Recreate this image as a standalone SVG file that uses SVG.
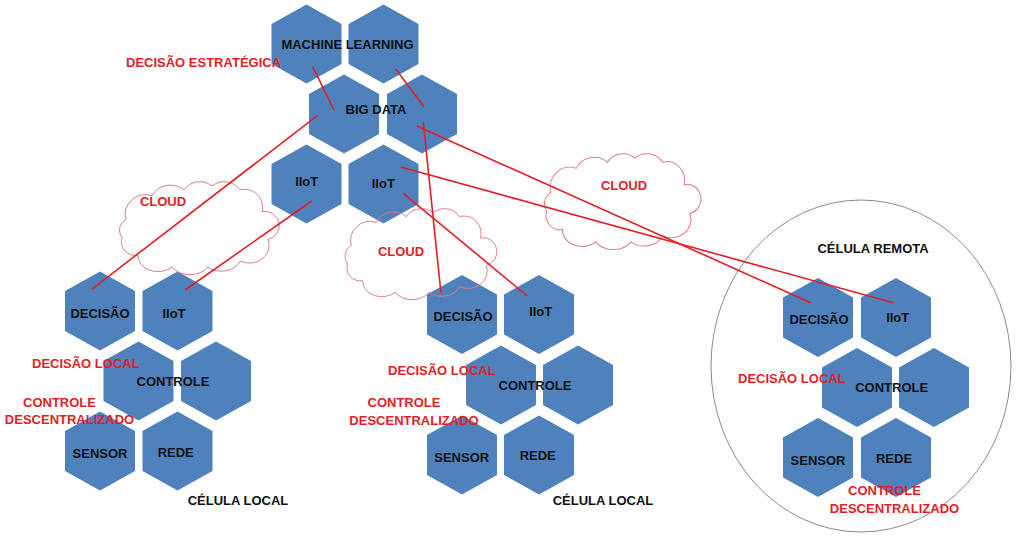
<svg xmlns="http://www.w3.org/2000/svg" xmlns:xlink="http://www.w3.org/1999/xlink" width="1023" height="544" viewBox="0 0 1023 544">
<style>
.hex{fill:#4f81bd}
.lbl{font-family:"Liberation Sans",Arial,sans-serif;font-weight:bold;font-size:13px;fill:#111;text-anchor:middle}
.red{font-family:"Liberation Sans",Arial,sans-serif;font-weight:bold;font-size:13px;fill:#e31e24;text-anchor:middle}
.red12{text-anchor:start}
.start{text-anchor:start}
.cloud{fill:none;stroke:#e27a86;stroke-width:1}
.conn line{stroke:#e31e24;stroke-width:1.6;fill:none}
</style>
<defs>
<path id="hx" d="M0,-39.5 L35,-20 L35,20 L0,39.5 L-35,20 L-35,-20 Z"/>
<path id="cl" d="M14,42 A20,20 0 0 1 40,18 A20,18 0 0 1 72,12 A18,16 0 0 1 100,8 A18,16 0 0 1 128,12 A18,18 0 0 1 150,34 A14,14 0 0 1 156,62 A20,18 0 0 1 128,84 A20,16 0 0 1 96,90 A22,18 0 0 1 60,90 A20,16 0 0 1 26,78 A14,14 0 0 1 10,60 A12,12 0 0 1 14,42 Z"/>
</defs>
<rect width="1023" height="544" fill="#fff"/>
<ellipse id="celula-remota-border" cx="861" cy="366" rx="150" ry="166" fill="none" stroke="#8a8a8a" stroke-width="1"/>

<!-- top cluster -->
<g id="machine-learning">
<use href="#hx" class="hex" x="306.5" y="44"/>
<use href="#hx" class="hex" x="383.5" y="44"/>
</g>
<g id="big-data">
<use href="#hx" class="hex" x="344" y="114"/>
<use href="#hx" class="hex" x="422" y="114"/>
</g>
<g id="iiot-top-left"><use href="#hx" class="hex" x="306.5" y="184"/></g>
<g id="iiot-top-right"><use href="#hx" class="hex" x="383.5" y="184"/></g>

<!-- left cell -->
<g id="l-decisao"><use href="#hx" class="hex" x="100" y="311"/></g>
<g id="l-iiot"><use href="#hx" class="hex" x="177.5" y="311"/></g>
<g id="l-controle"><use href="#hx" class="hex" x="138.5" y="381"/><use href="#hx" class="hex" x="216" y="381"/></g>
<g id="l-sensor"><use href="#hx" class="hex" x="100" y="451"/></g>
<g id="l-rede"><use href="#hx" class="hex" x="177.5" y="451"/></g>

<!-- middle cell -->
<g id="m-decisao"><use href="#hx" class="hex" x="462" y="314.5"/></g>
<g id="m-iiot"><use href="#hx" class="hex" x="539" y="314.5"/></g>
<g id="m-controle"><use href="#hx" class="hex" x="501" y="385"/><use href="#hx" class="hex" x="578" y="385"/></g>
<g id="m-sensor"><use href="#hx" class="hex" x="462" y="455"/></g>
<g id="m-rede"><use href="#hx" class="hex" x="539" y="455"/></g>

<!-- remote cell -->
<g id="r-decisao"><use href="#hx" class="hex" x="818" y="317.5"/></g>
<g id="r-iiot"><use href="#hx" class="hex" x="896" y="317.5"/></g>
<g id="r-controle"><use href="#hx" class="hex" x="857" y="387.5"/><use href="#hx" class="hex" x="934" y="387.5"/></g>
<g id="r-sensor"><use href="#hx" class="hex" x="818" y="457.5"/></g>
<g id="r-rede"><use href="#hx" class="hex" x="896" y="457.5"/></g>

<!-- clouds -->
<g id="cloud-left"><use href="#cl" class="cloud" transform="translate(112,178) scale(1,0.99)"/><text class="red" x="163" y="205.5">CLOUD</text></g>
<g id="cloud-middle"><use href="#cl" class="cloud" transform="translate(338,205) scale(0.95,0.97)"/><text class="red" x="401" y="255.5">CLOUD</text></g>
<g id="cloud-right"><use href="#cl" class="cloud" transform="translate(537,150) scale(0.98,1.02)"/><text class="red" x="624" y="190">CLOUD</text></g>

<!-- connectors -->
<g id="connectors" class="conn">
<line x1="312.7" y1="66.7" x2="334" y2="110"/>
<line x1="395.7" y1="69" x2="424" y2="106.7"/>
<line x1="317.3" y1="115.7" x2="91.7" y2="289.3"/>
<line x1="311.7" y1="201" x2="185" y2="290"/>
<line x1="416.7" y1="126" x2="810.7" y2="302.7"/>
<line x1="400.7" y1="167" x2="893.3" y2="302.7"/>
<line x1="423.3" y1="122.7" x2="441" y2="293.3"/>
<line x1="403.3" y1="193.3" x2="527.3" y2="296"/>
</g>

<!-- labels -->
<g id="labels">
<text class="lbl" x="347.5" y="49">MACHINE LEARNING</text>
<text class="lbl" x="376" y="113.5">BIG DATA</text>
<text class="lbl" x="306.7" y="186">IIoT</text>
<text class="lbl" x="383.3" y="188">IIoT</text>
<text class="red start" x="126" y="67">DECISÃO ESTRATÉGICA</text>

<text class="lbl" x="100" y="317.5">DECISÃO</text>
<text class="lbl" x="174" y="317.5">IIoT</text>
<text class="lbl" x="173" y="385.5">CONTROLE</text>
<text class="lbl" x="100" y="457.5">SENSOR</text>
<text class="lbl" x="175.7" y="456.5">REDE</text>
<text class="lbl start" x="187.7" y="504.5">CÉLULA LOCAL</text>
<text class="red red12" x="32" y="367.5">DECISÃO LOCAL</text>
<text class="red" x="59.5" y="406.5">CONTROLE</text>
<text class="red" x="69.5" y="423.5">DESCENTRALIZADO</text>

<text class="lbl" x="463" y="320.5">DECISÃO</text>
<text class="lbl" x="540.7" y="316">IIoT</text>
<text class="lbl" x="535" y="389.5">CONTROLE</text>
<text class="lbl" x="461.7" y="461.5">SENSOR</text>
<text class="lbl" x="537.7" y="459.5">REDE</text>
<text class="lbl start" x="552.7" y="505">CÉLULA LOCAL</text>
<text class="red red12" x="388" y="375">DECISÃO LOCAL</text>
<text class="red" x="404" y="406.5">CONTROLE</text>
<text class="red" x="414" y="424.5">DESCENTRALIZADO</text>

<text class="lbl" x="819" y="323.5">DECISÃO</text>
<text class="lbl" x="897.7" y="321.5">IIoT</text>
<text class="lbl" x="891.7" y="391.5">CONTROLE</text>
<text class="lbl" x="818" y="464.5">SENSOR</text>
<text class="lbl" x="894" y="462.5">REDE</text>
<text class="lbl" x="873" y="252.5">CÉLULA REMOTA</text>
<text class="red red12" x="738" y="383">DECISÃO LOCAL</text>
<text class="red" x="884.5" y="494.5">CONTROLE</text>
<text class="red" x="894.5" y="512.5">DESCENTRALIZADO</text>
</g>
</svg>
